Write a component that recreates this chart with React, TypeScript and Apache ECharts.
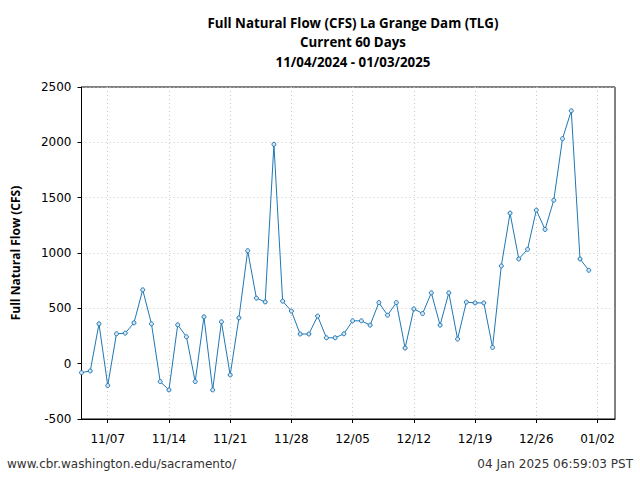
import React, { useEffect, useRef } from "react";
import * as echarts from "echarts";

const dates: string[] = [
  "11/04","11/05","11/06","11/07","11/08","11/09","11/10","11/11","11/12","11/13",
  "11/14","11/15","11/16","11/17","11/18","11/19","11/20","11/21","11/22","11/23",
  "11/24","11/25","11/26","11/27","11/28","11/29","11/30","12/01","12/02","12/03",
  "12/04","12/05","12/06","12/07","12/08","12/09","12/10","12/11","12/12","12/13",
  "12/14","12/15","12/16","12/17","12/18","12/19","12/20","12/21","12/22","12/23",
  "12/24","12/25","12/26","12/27","12/28","12/29","12/30","12/31","01/01",
];

const flowCfs: number[] = [
  -81, -66, 360, -198, 270, 276, 369, 667, 360, -162,
  -237, 351, 243, -162, 423, -237, 378, -102, 414, 1021,
  592, 558, 1982, 565, 475, 268, 268, 430, 234, 234,
  270, 387, 387, 348, 552, 438, 552, 141, 495, 453,
  640, 348, 640, 222, 556, 549, 549, 147, 883, 1360,
  946, 1033, 1387, 1213, 1477, 2033, 2285, 946, 844,
];

const xTickLabels: string[] = ["11/07","11/14","11/21","11/28","12/05","12/12","12/19","12/26","01/02"];
const yTicks: number[] = [-500, 0, 500, 1000, 1500, 2000, 2500];

const titleLines: string[] = [
  "Full Natural Flow (CFS) La Grange Dam (TLG)",
  "Current 60 Days",
  "11/04/2024 - 01/03/2025",
];
const yAxisName = "Full Natural Flow (CFS)";
const footerLeft = "www.cbr.washington.edu/sacramento/";
const footerRight = "04 Jan 2025 06:59:03 PST";

// x = day index since first date; axis spans 61 days (11/04 .. 01/04)
const xSpanDays = 61;
const firstTickOffset = dates.indexOf(xTickLabels[0]);
const xTickValues = xTickLabels.map((_, k) => firstTickOffset + 7 * k);

export default function App() {
  const ref = useRef<HTMLDivElement>(null);
  useEffect(() => {
    if (!ref.current) return;
    const chart = echarts.init(ref.current, undefined, { renderer: "svg" });
    const data = flowCfs.map((v, i) => [i, v]);
    const tickFont = { fontFamily: "DejaVu Sans", fontSize: 12, color: "#000" };
    chart.setOption({
      animation: false,
      backgroundColor: "#fff",
      title: {
        text: titleLines.join("\n"),
        left: 348,
        textAlign: "center",
        top: 8,
        textStyle: {
          fontFamily: "Open Sans",
          fontWeight: "bold",
          fontSize: 13.3,
          lineHeight: 19.5,
          color: "#000",
        },
      },
      graphic: [
        {
          type: "text",
          left: 7,
          top: 458,
          style: { text: footerLeft, fontFamily: "DejaVu Sans", fontSize: 12, fill: "#333" },
        },
        {
          type: "text",
          right: 7,
          top: 458,
          style: { text: footerRight, fontFamily: "DejaVu Sans", fontSize: 12, fill: "#333" },
        },
      ],
      grid: {
        left: 81.5,
        right: 25,
        top: 87,
        bottom: 61,
        show: true,
        borderColor: "#000",
        borderWidth: 1,
        backgroundColor: "transparent",
      },
      xAxis: {
        type: "value",
        min: 0,
        max: xSpanDays,
        axisLine: { show: true, onZero: false, lineStyle: { color: "#000", width: 1 } },
        axisTick: {
          show: true,
          inside: false,
          length: 4,
          lineStyle: { color: "#000" },
          customValues: xTickValues,
        },
        axisLabel: {
          ...tickFont,
          margin: 14,
          customValues: xTickValues,
          formatter: (v: number) => {
            const k = Math.round((v - firstTickOffset) / 7);
            return xTickLabels[k] ?? "";
          },
        },
        splitLine: { show: true, lineStyle: { color: "#c8c8c8", type: [1, 3], width: 1 } },
      },
      yAxis: {
        type: "value",
        min: yTicks[0],
        max: yTicks[yTicks.length - 1],
        interval: 500,
        name: yAxisName,
        nameLocation: "middle",
        nameGap: 60,
        nameTextStyle: { fontFamily: "Open Sans", fontWeight: "bold", fontSize: 12, color: "#000" },
        axisLine: { show: true, onZero: false, lineStyle: { color: "#000", width: 1 } },
        axisTick: { show: true, inside: false, length: 4, lineStyle: { color: "#000" } },
        axisLabel: { ...tickFont, margin: 10, formatter: (v: number) => String(v) },
        splitLine: { show: true, lineStyle: { color: "#c8c8c8", type: [1, 3], width: 1 } },
      },
      series: [
        {
          type: "line",
          data,
          showAllSymbol: true,
          symbol: "circle",
          symbolSize: 4,
          lineStyle: { color: "#1f77b4", width: 1 },
          itemStyle: { color: "#d6e6f4", borderColor: "#1f77b4", borderWidth: 1 },
        },
      ],
    });
    return () => chart.dispose();
  }, []);
  return (
    <div
      ref={ref}
      style={{ position: "fixed", left: 0, top: 0, width: 640, height: 480 }}
    />
  );
}
